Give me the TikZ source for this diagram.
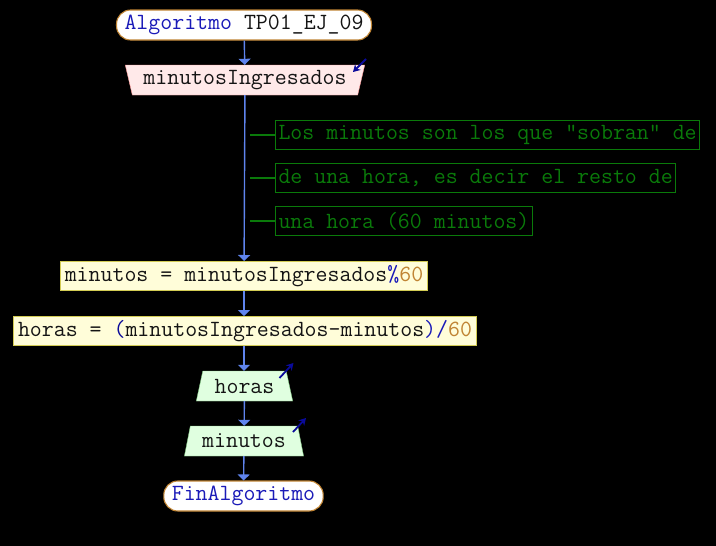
\documentclass[tikz,border=0pt]{standalone}
\usepackage{fontspec}
\usetikzlibrary{arrows.meta, positioning, shapes.geometric, calc}
\definecolor{cflow}{HTML}{5F84EE}
\definecolor{ckey}{HTML}{1A1AB8}
\definecolor{cnum}{HTML}{C08433}
\definecolor{cdark}{HTML}{141414}
\definecolor{cnote}{HTML}{0A7A0A}
\definecolor{cio}{HTML}{0A0A9A}
\tikzset{
  every picture/.style={font=\ttfamily\fontsize{23.2}{24}\selectfont},
  terminal/.style={draw=cnum, line width=1.1pt, fill=white, rounded corners=14pt, inner xsep=8pt, inner ysep=2pt, minimum height=30pt, text=cdark},
  inbox/.style={trapezium, shape border rotate=180, trapezium stretches=true, trapezium left angle=72, trapezium right angle=72,
                draw=pink!80!red, fill=pink!35, minimum width=240pt, minimum height=30pt, inner sep=0pt, text=cdark},
  outbox/.style={trapezium, trapezium stretches=true, trapezium left angle=72, trapezium right angle=72,
                draw=green!40!gray!70, fill=green!12, minimum height=30pt, inner sep=0pt, text=cdark},
  assign/.style={draw=yellow!60!gray, line width=1pt, fill=yellow!15, inner xsep=4pt, inner ysep=1pt, minimum height=29pt, text=cdark},
  comment/.style={draw=cnote, line width=1pt, text=cnote, inner xsep=3pt, inner ysep=1pt, minimum height=29pt, anchor=west},
  flow/.style={draw=cflow, line width=1.4pt, -{Triangle[length=6pt, width=12pt]}},
  ioarrow/.style={draw=cio, line width=1.8pt, -{Stealth[length=7pt, width=8pt]}},
}
\begin{document}
\begin{tikzpicture}[x=1pt, y=-1pt]
  \fill[black] (0,0) rectangle (716,546);
  \useasboundingbox (0,0) rectangle (716,546);

  \node[terminal] (start) at (244,25) {\textcolor{ckey}{Algoritmo} TP01\_EJ\_09};
  \node[inbox] (leer) at (245,80) {minutosIngresados};
  \draw[ioarrow] ($(leer.center)+(121,-21)$) -- ($(leer.center)+(108,-8)$);

  % comentarios
  \node[comment] (c1) at (275,135) {Los minutos son los que "sobran" de};
  \node[comment] (c2) at (275,178) {de una hora, es decir el resto de};
  \node[comment] (c3) at (275,221) {una hora (60 minutos)};
  \foreach \c in {c1,c2,c3} {
    \coordinate (\c l) at (250,0 |- \c.west);
    \draw[cnote, line width=1.5pt] (\c l) -- (\c.west);
  }

  \node[assign] (asig1) at (244,276) {minutos = minutosIngresados\textcolor{ckey}{\%}\textcolor{cnum}{60}};
  \node[assign] (asig2) at (245,331) {horas = \textcolor{cio}{(}minutosIngresados-minutos\textcolor{ckey}{)/}\textcolor{cnum}{60}};

  \node[outbox, minimum width=97pt] (esc1) at (244.5,386) {horas};
  \draw[ioarrow] ($(esc1.center)+(35,-8)$) -- ($(esc1.center)+(49,-23)$);
  \node[outbox, minimum width=120pt] (esc2) at (244,441) {minutos};
  \draw[ioarrow] ($(esc2.center)+(49,-9)$) -- ($(esc2.center)+(62,-23)$);

  \node[terminal] (fin) at (243.5,496) {\textcolor{ckey}{FinAlgoritmo}};

  \draw[flow] (start) -- (leer);
  \draw[flow] (leer) -- (asig1);
  \draw[flow] (asig1) -- (asig1 |- asig2.north);
  \draw[flow] (asig1 |- asig2.south) -- (asig1 |- esc1.north);
  \draw[flow] (esc1) -- (esc2);
  \draw[flow] (esc2) -- (fin);
\end{tikzpicture}
\end{document}
